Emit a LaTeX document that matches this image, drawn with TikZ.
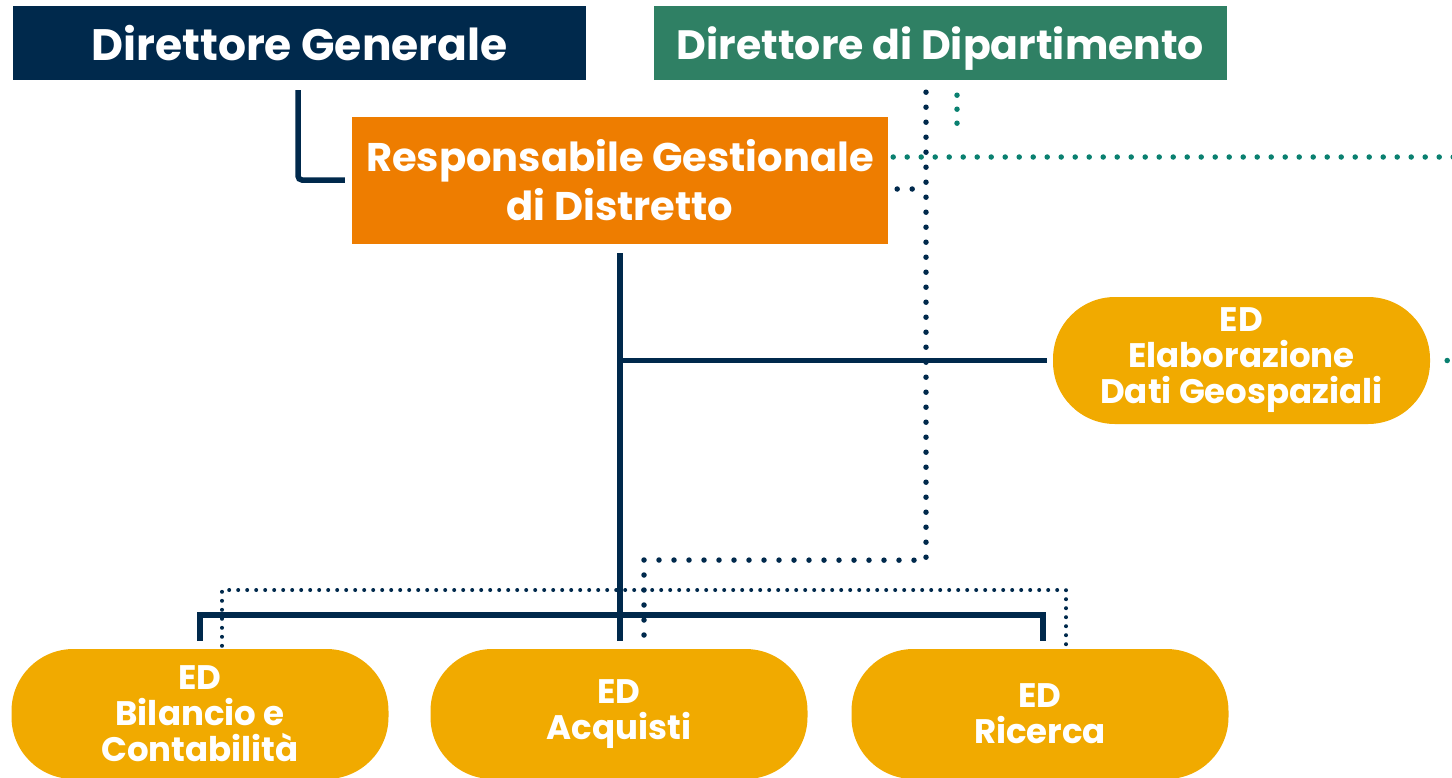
\documentclass[tikz,border=0pt]{standalone}
\usepackage{fontspec}
\setmainfont{Poppins}
\begin{document}
\begin{tikzpicture}[x=1pt,y=-1pt,
    headbox/.style={shape=rectangle,text=white,font=\bfseries\fontsize{40}{49}\selectfont,align=center},
    edpill/.style={shape=rectangle,rounded corners=62pt,fill=org_ed,text=white,font=\bfseries\fontsize{34}{36}\selectfont,align=center,minimum width=377pt,minimum height=130pt},
    navyline/.style={draw=org_navy,line width=5.5pt},
    navydots/.style={draw=org_navy,line width=5.5pt,line cap=round,dash pattern=on 0pt off 15pt},
    smalldots/.style={draw=org_navy,line width=4pt,line cap=round,dash pattern=on 0pt off 9pt},
    tealdots/.style={draw=org_teal,line width=5.5pt,line cap=round,dash pattern=on 0pt off 14pt}]
    \definecolor{org_navy}{RGB}{0,41,76}
    \definecolor{org_green}{RGB}{47,128,100}
    \definecolor{org_orange}{RGB}{238,125,0}
    \definecolor{org_ed}{RGB}{241,170,0}
    \definecolor{org_teal}{RGB}{10,128,112}
    \useasboundingbox (0,0) rectangle (1452,777);
    % vertici
    \node[headbox,fill=org_navy,minimum width=573pt,minimum height=74pt,font=\bfseries\fontsize{44}{50}\selectfont] (dg) at (299.5,43) {Direttore Generale};
    \node[headbox,fill=org_green,minimum width=573pt,minimum height=74pt,text depth=0pt,font=\bfseries\fontsize{41}{50}\selectfont] (dd) at (940.5,43) {Direttore di Dipartimento};
    \node[headbox,fill=org_orange,minimum width=536pt,minimum height=127pt] (rgd) at (620,180.5) {Responsabile Gestionale\\di Distretto};
    % ED
    \node[edpill,minimum height=127pt] (geo) at (1241.5,360.5) {ED\\Elaborazione\\Dati Geospaziali};
    \node[edpill] (bil) at (200,714)    {ED\\Bilancio e\\Contabilità};
    \node[edpill] (acq) at (619,714)    {ED\\Acquisti};
    \node[edpill] (ric) at (1040,714)   {ED\\Ricerca};
    \coordinate (bus)      at (619,615);
    \coordinate (dotturn)  at (644,560);
    \coordinate (dotbus)   at (644,590);
    \coordinate (offtop)   at (1470,157);
    \coordinate (offgeo)   at (1470,360.5);
    % linee gerarchiche
    \draw[navyline,rounded corners=4pt] ([xshift=-1.5pt,yshift=-10pt]dg.south) |- ([xshift=-7pt,yshift=0.5pt]rgd.west);
    \draw[navyline] ([yshift=-9pt]rgd.south) -- ([yshift=8pt]rgd.south |- acq.north);
    \draw[navyline] (rgd.south |- geo.west) -- ([xshift=-6pt]geo.west);
    \draw[navyline] ([yshift=8pt]bil.north) |- (bus) -| ([xshift=3pt,yshift=8pt]ric.north);
    % linee funzionali
    \draw[navydots] ([xshift=-14.5pt,yshift=-12pt]dd.south) -- ++(0,468) -- (dotturn) -- ([xshift=25pt,yshift=3pt]acq.north);
    \draw[navydots] ([xshift=9pt,yshift=-8.5pt]rgd.east) -- ++(29,0);
    \draw[smalldots] ([xshift=22pt,yshift=3pt]bil.north) |- (dotbus) -| ([xshift=26pt,yshift=3pt]ric.north);
    \draw[tealdots] ([xshift=16.5pt,yshift=-15pt]dd.south) -- ++(0,35);
    \draw[tealdots] ([xshift=5pt,yshift=23.5pt]rgd.east) -- (offtop);
    \draw[tealdots] ([xshift=17pt]geo.east) -- (offgeo);
\end{tikzpicture}
\end{document}
